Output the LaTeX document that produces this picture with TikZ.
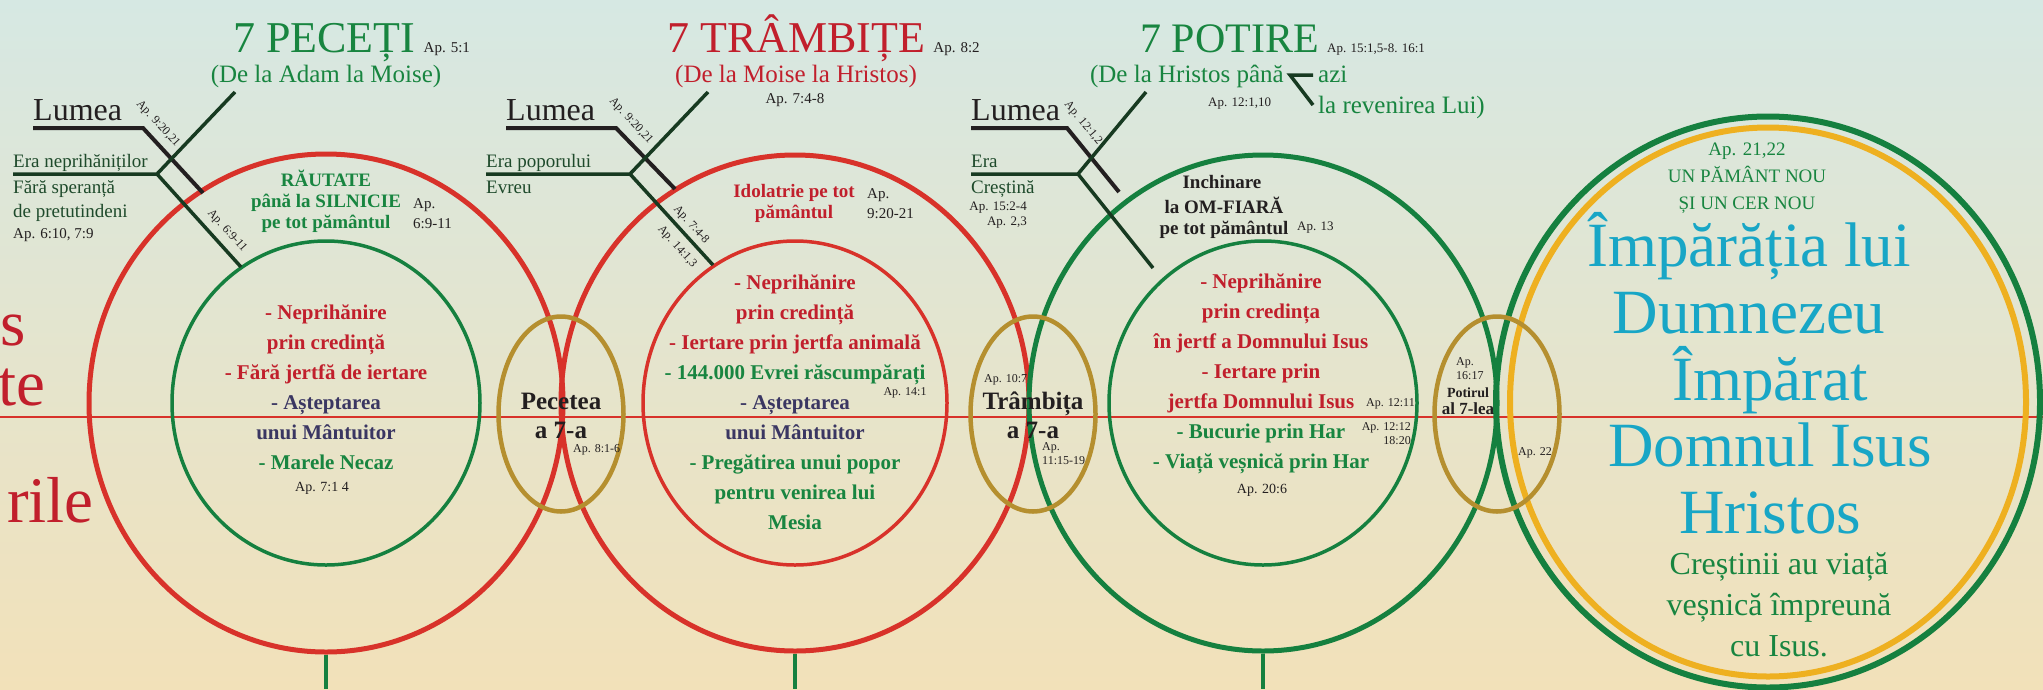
\documentclass[tikz,border=0pt]{standalone}
\usepackage{fontspec}
\setmainfont{Liberation Serif}
\usetikzlibrary{positioning,shapes.geometric}

\definecolor{bgtop}{HTML}{D6E8E3}
\definecolor{bgmid}{HTML}{E4E5CE}
\definecolor{bgbot}{HTML}{F2E1B9}
\definecolor{redc}{HTML}{D8322A}
\definecolor{greenc}{HTML}{15803F}
\definecolor{goldc}{HTML}{B58F2F}
\definecolor{yellowc}{HTML}{EEB020}
\definecolor{blackc}{HTML}{231F20}
\definecolor{eragreen}{HTML}{173A21}
\definecolor{eratxt}{HTML}{1E4A2B}
\definecolor{txtred}{HTML}{C11F2C}
\definecolor{txtgreen}{HTML}{188540}
\definecolor{txtnavy}{HTML}{3A3662}
\definecolor{cyanc}{HTML}{18A6C6}

\tikzset{
  ring/.style={ellipse, draw=#1, line width=5pt, inner sep=0pt},
  innerring/.style={ellipse, draw=#1, line width=3.5pt, inner sep=0pt},
  seal/.style={ellipse, draw=goldc, line width=4.5pt, inner sep=0pt,
    minimum width=125pt, minimum height=195pt},
  stem/.style={draw=greenc, line width=3.5pt},
  worldline/.style={draw=blackc, line width=4pt},
  eraline/.style={draw=eragreen, line width=3.5pt},
  title/.style={font=\fontsize{44}{50}\selectfont, anchor=base west, inner sep=0pt},
  subtitle/.style={font=\fontsize{25}{30}\selectfont, anchor=base, inner sep=0pt},
  ref/.style={font=\fontsize{15}{20}\selectfont, text=blackc, inner sep=0pt},
  smallref/.style={font=\fontsize{13}{15}\selectfont, text=blackc, inner sep=0pt},
  tinyref/.style={font=\fontsize{12}{14}\selectfont, text=blackc, inner sep=0pt},
  lumea/.style={font=\fontsize{32}{36}\selectfont, text=blackc, anchor=base west, inner sep=0pt},
  eratext/.style={font=\fontsize{19}{24}\selectfont, text=eratxt, anchor=base west, inner sep=0pt},
  heading/.style={font=\bfseries\fontsize{19}{21}\selectfont, align=center, anchor=base, inner sep=0pt},
  content/.style={font=\bfseries\fontsize{21}{30}\selectfont, align=center, anchor=base, inner sep=0pt},
  sealtext/.style={font=\bfseries\fontsize{25}{29}\selectfont, align=center, anchor=base,
    inner sep=0pt, text=blackc},
  bigred/.style={font=\fontsize{65}{70}\selectfont, text=txtred, anchor=base east, inner sep=0pt},
  kingdom/.style={font=\fontsize{63}{66.5}\selectfont, text=cyanc, align=center, anchor=base, inner sep=0pt}
}

\begin{document}
\begin{tikzpicture}[x=1pt,y=-1pt]
  \useasboundingbox (0,0) rectangle (2043,689);
  \clip (0,0) rectangle (2043,689);
  \shade[top color=bgtop, middle color=bgmid, bottom color=bgbot] (0,0) rectangle (2043,689);

  % time line
  \coordinate (ml) at (0,417);
  \coordinate (mr) at (2043,417);
  \draw[redc, line width=1.5pt] (ml) -- (mr);

  % rings
  \node[ring=redc, minimum width=474pt, minimum height=498pt] (c1) at (326,403) {};
  \node[innerring=greenc, minimum width=308pt, minimum height=324pt] (c1in) at (326,403) {};
  \node[ring=redc, minimum width=468pt, minimum height=496pt] (c2) at (795,403) {};
  \node[innerring=redc, minimum width=304pt, minimum height=324pt] (c2in) at (795,403) {};
  \node[ring=greenc, minimum width=468pt, minimum height=496pt] (c3) at (1263,403) {};
  \node[innerring=greenc, minimum width=308pt, minimum height=324pt] (c3in) at (1263,403) {};
  \node[ring=greenc, line width=6pt, minimum width=544pt, minimum height=571pt] (c4) at (1768,402) {};
  \node[ring=yellowc, line width=6pt, minimum width=516pt, minimum height=549pt] (c4in) at (1768,402) {};

  % seals between the rings
  \node[seal] (e1) at (561,414) {};
  \node[seal] (e2) at (1033,414) {};
  \node[seal] (e3) at (1497,414) {};

  % stems
  \coordinate (b1) at (326,689);
  \coordinate (b2) at (795,689);
  \coordinate (b3) at (1263,689);
  \draw[stem] (c1.south) -- (b1);
  \draw[stem] (c2.south) -- (b2);
  \draw[stem] (c3.south) -- (b3);

  % words cut at the left edge
  \node[bigred] (w1) at (26,345) {s};
  \node[bigred] (w2) at (46,405) {te};
  \node[bigred] (w3) at (94,522) {rile};

  % 7 peceti (multi-line nodes sit on their last line)
  \node[title, text=txtgreen] (t1) at (233,52) {7 PECEȚI};
  \node[ref, base right=8pt of t1] (t1ap) {Ap. 5:1};
  \node[subtitle, text=txtgreen] (s1) at (326,82) {(De la Adam la Moise)};
  \node[lumea] (l1) at (33,120) {Lumea};
  \coordinate (l1a) at (33,128);
  \coordinate (l1b) at (143,128);
  \coordinate (l1c) at (203,193);
  \draw[worldline] (l1a) -- (l1b) -- (l1c);
  \node[tinyref, rotate=-47] (l1r) at (158,124) {Ap. 9:20,21};
  \coordinate (g1a) at (13,174);
  \coordinate (g1b) at (157,174);
  \coordinate (g1c) at (235,92);
  \coordinate (g1d) at (241,267);
  \draw[eraline] (g1a) -- (g1b) -- (g1c);
  \draw[eraline] (g1b) -- (g1d);
  \node[tinyref, rotate=-48] (g1r) at (227,231) {Ap. 6:9-11};
  \node[eratext] (era1) at (13,167) {Era neprihăniților};
  \node[eratext] (era1b) at (13,193) {Fără speranță};
  \node[eratext] (era1c) at (13,217) {de pretutindeni};
  \node[ref, anchor=base west] (era1r) at (13,238) {Ap. 6:10, 7:9};
  \node[heading, text=txtgreen] (h1) at (326,228) {RĂUTATE\\până la SILNICIE\\pe tot pământul};
  \node[ref, align=left, anchor=base west] (h1r) at (413,228) {Ap.\\6:9-11};
  \node[content] (in1) at (326,469) {\textcolor{txtred}{- Neprihănire}\\
    \textcolor{txtred}{prin credință}\\
    \textcolor{txtred}{- Fără jertfă de iertare}\\
    \textcolor{txtnavy}{- Așteptarea}\\
    \textcolor{txtnavy}{unui Mântuitor}\\
    \textcolor{txtgreen}{- Marele Necaz}};
  \node[ref, anchor=base, font=\fontsize{14}{16}\selectfont] (in1r) at (322,491) {Ap. 7:1 4};

  % 7 trambite
  \node[title, text=txtred] (t2) at (667,52) {7 TRÂMBIȚE};
  \node[ref, base right=8pt of t2] (t2ap) {Ap. 8:2};
  \node[subtitle, text=txtred] (s2) at (796,82) {(De la Moise la Hristos)};
  \node[ref, anchor=base] (s2r) at (795,103) {Ap. 7:4-8};
  \node[lumea] (l2) at (506,120) {Lumea};
  \coordinate (l2a) at (506,128);
  \coordinate (l2b) at (616,128);
  \coordinate (l2c) at (675,189);
  \draw[worldline] (l2a) -- (l2b) -- (l2c);
  \node[tinyref, rotate=-47] (l2r) at (631,121) {Ap. 9:20,21};
  \coordinate (g2a) at (486,174);
  \coordinate (g2b) at (630,174);
  \coordinate (g2c) at (708,92);
  \coordinate (g2d) at (713,265);
  \draw[eraline] (g2a) -- (g2b) -- (g2c);
  \draw[eraline] (g2b) -- (g2d);
  \node[tinyref, rotate=-48] (g2r) at (691,225) {Ap. 7:4-8};
  \node[tinyref, rotate=-48] (g2s) at (677,247) {Ap. 14:1,3};
  \node[eratext] (era2) at (486,167) {Era poporului};
  \node[eratext] (era2b) at (486,193) {Evreu};
  \node[heading, text=txtred] (h2) at (794,218) {Idolatrie pe tot\\pământul};
  \node[ref, align=left, anchor=base west] (h2r) at (867,218) {Ap.\\9:20-21};
  \node[content] (in2) at (795,529) {\textcolor{txtred}{- Neprihănire}\\
    \textcolor{txtred}{prin credință}\\
    \textcolor{txtred}{- Iertare prin jertfa animală}\\
    \textcolor{txtgreen}{- 144.000 Evrei răscumpărați}\\
    \textcolor{txtnavy}{- Așteptarea}\\
    \textcolor{txtnavy}{unui Mântuitor}\\
    \textcolor{txtgreen}{- Pregătirea unui popor}\\
    \textcolor{txtgreen}{pentru venirea lui}\\
    \textcolor{txtgreen}{Mesia}};
  \node[tinyref, anchor=base] (in2r) at (905,395) {Ap. 14:1};
  \node[sealtext] (e1t) at (561,438) {Pecetea\\a 7-a};
  \node[tinyref, anchor=base west] (e1r) at (573,452) {Ap. 8:1-6};

  % 7 potire
  \node[title, text=txtgreen, font=\fontsize{42}{50}\selectfont] (t3) at (1140,52) {7 POTIRE};
  \node[smallref, base right=8pt of t3] (t3ap) {Ap. 15:1,5-8. 16:1};
  \node[subtitle, text=txtgreen, anchor=base east] (s3) at (1284,82) {(De la Hristos până};
  \node[subtitle, text=txtgreen, anchor=base west] (s3b) at (1318,82) {azi};
  \node[subtitle, text=txtgreen, anchor=base west] (s3c) at (1318,113) {la revenirea Lui)};
  \coordinate (k3a) at (1313,75);
  \coordinate (k3b) at (1290,75);
  \coordinate (k3c) at (1313,105);
  \draw[eraline] (k3a) -- (k3b) -- (k3c);
  \node[smallref, anchor=base west] (s3r) at (1208,106) {Ap. 12:1,10};
  \node[lumea] (l3) at (971,120) {Lumea};
  \coordinate (l3a) at (971,128);
  \coordinate (l3b) at (1067,128);
  \coordinate (l3c) at (1119,192);
  \draw[worldline] (l3a) -- (l3b) -- (l3c);
  \node[tinyref, rotate=-50] (l3r) at (1083,123) {Ap. 12:1,2};
  \coordinate (g3a) at (971,174);
  \coordinate (g3b) at (1078,174);
  \coordinate (g3c) at (1146,92);
  \coordinate (g3d) at (1153,268);
  \draw[eraline] (g3a) -- (g3b) -- (g3c);
  \draw[eraline] (g3b) -- (g3d);
  \node[eratext] (era3) at (971,167) {Era};
  \node[eratext] (era3b) at (971,193) {Creștină};
  \node[smallref, anchor=base east] (era3r) at (1027,210) {Ap. 15:2-4};
  \node[smallref, anchor=base east] (era3s) at (1027,225) {Ap. 2,3};
  \node[heading, text=blackc] (h3) at (1222,188) {Inchinare};
  \node[heading, text=blackc] (h3b) at (1224,234) {la OM-FIARĂ\\pe tot pământul};
  \node[smallref, anchor=base west] (h3r) at (1297,230) {Ap. 13};
  \node[content] (in3) at (1261,468) {\textcolor{txtred}{- Neprihănire}\\
    \textcolor{txtred}{prin credința}\\
    \textcolor{txtred}{în jertf a Domnului Isus}\\
    \textcolor{txtred}{- Iertare prin}\\
    \textcolor{txtred}{jertfa Domnului Isus}\\
    \textcolor{txtgreen}{- Bucurie prin Har}\\
    \textcolor{txtgreen}{- Viață veșnică prin Har}};
  \node[ref, anchor=base, font=\fontsize{14}{16}\selectfont] (in3r) at (1262,493) {Ap. 20:6};
  \node[tinyref, anchor=base west] (in3s) at (1366,406) {Ap. 12:11};
  \node[tinyref, align=right, anchor=base east] (in3t) at (1411,444) {Ap. 12:12\\18:20};
  \node[tinyref, anchor=base west] (e2r) at (984,382) {Ap. 10:7};
  \node[sealtext] (e2t) at (1033,438) {Trâmbița\\a 7-a};
  \node[tinyref, align=left, anchor=base west] (e2s) at (1042,464) {Ap.\\11:15-19};
  \node[tinyref, align=left, anchor=base west] (e3r) at (1456,379) {Ap.\\16:17};
  \node[sealtext, font=\bfseries\fontsize{14}{16}\selectfont] (e3t) at (1468,397) {Potirul};
  \node[sealtext, font=\bfseries\fontsize{17}{20}\selectfont] (e3u) at (1468,414) {al 7-lea};
  \node[tinyref, anchor=base west] (e3s) at (1518,455) {Ap. 22};

  % imparatia
  \node[font=\fontsize{19}{27}\selectfont, text=txtgreen, align=center, anchor=base, inner sep=0pt]
    (n4) at (1747,209) {Ap. 21,22\\UN PĂMÂNT NOU\\ȘI UN CER NOU};
  \node[kingdom] (k4) at (1749,333) {Împărăția lui\\Dumnezeu};
  \node[kingdom] (k4b) at (1770,533) {Împărat\\Domnul Isus\\Hristos};
  \node[font=\fontsize{32}{41}\selectfont, text=txtgreen, align=center, anchor=base, inner sep=0pt]
    (k4c) at (1779,656) {Creștinii au viață\\veșnică împreună\\cu Isus.};
\end{tikzpicture}
\end{document}
